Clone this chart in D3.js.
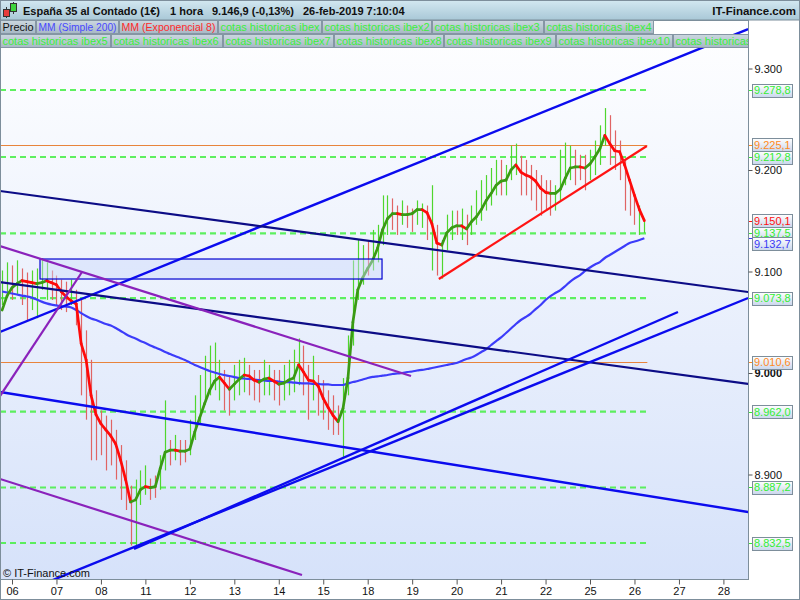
<!DOCTYPE html>
<html><head><meta charset="utf-8">
<script src="https://cdn.jsdelivr.net/npm/d3@7"></script>
<style>body{margin:0;background:#fff;} svg{display:block;font-family:"Liberation Sans",Arial,sans-serif;}</style>
</head><body><svg id="c" width="800" height="600"></svg>
<script>
// ---------------- DATA ----------------
const titleParts = ["España 35 al Contado (1€)", "1 hora", "9.146,9 (-0,13%)", "26-feb-2019 7:10:04"];
const brand = "IT-Finance.com";
const legendRow1 = ["Precio","MM (Simple 200)","MM (Exponencial 8)","cotas historicas ibex","cotas historicas ibex2","cotas historicas ibex3","cotas historicas ibex4"];
const legendRow2 = ["cotas historicas ibex5","cotas historicas ibex6","cotas historicas ibex7","cotas historicas ibex8","cotas historicas ibex9","cotas historicas ibex10","cotas historicas ibex11"];
const dayLabels = ["06","07","08","11","12","13","14","15","18","19","20","21","22","25","26","27","28"];
const dayStart  = [2,11,20,29,38,47,56,65,74,83,92,101,110,119,128,137,146];
const yTicks = [8900, 9000, 9100, 9200, 9300];

const high = [9101,9109,9106,9111,9103,9099,9101,9103,9113,9109, 9101,9096,9092,9090,9092,9082,9072,9042,9013,8983,
 8963,8958,8954,8944,8929,8914,8889,8895,8904,8909, 8896,8899,8919,8973,8934,8939,8934,8934,8954,8978,
 8998,9017,9027,9030,9013,9003,8998,9008,9013,9015, 9008,9003,9003,9013,9008,9003,9003,9008,9013,9023,
 9034,9027,9008,9017,8998,8993,8983,8978,8968,8995, 9037,9111,9131,9126,9131,9141,9146,9175,9175,9172,
 9165,9170,9165,9162,9170,9167,9165,9185,9146,9131, 9156,9160,9160,9162,9156,9165,9180,9190,9195,9202,
 9210,9210,9205,9224,9226,9214,9210,9205,9200,9195, 9190,9190,9185,9220,9227,9224,9220,9215,9215,9220,
 9229,9244,9261,9254,9239,9229,9210,9185,9175,9165, 9152];
const low = [9067,9074,9072,9077,9067,9052,9062,9054,9082,9072, 9072,9067,9062,9060,9067,9047,8978,8954,8914,8914,
 8919,8904,8909,8895,8875,8865,8830,8830,8870,8880, 8875,8877,8885,8904,8909,8914,8909,8912,8919,8934,
 8949,8973,8978,8983,8973,8963,8958,8973,8978,8981, 8978,8973,8971,8978,8978,8973,8968,8973,8978,8981,
 8988,8978,8954,8973,8958,8954,8944,8939,8939,8916, 8978,9027,9072,9087,9096,9101,9109,9126,9136,9141,
 9136,9146,9143,9139,9146,9143,9131,9101,9096,9093, 9121,9131,9136,9131,9126,9136,9146,9150,9160,9165,
 9175,9175,9175,9190,9195,9175,9175,9170,9160,9155, 9160,9155,9160,9170,9185,9190,9185,9190,9180,9190,
 9195,9205,9224,9205,9200,9190,9160,9155,9146,9136, 9138];
const open = [9075,9080,9100,9085,9098,9090,9070,9065,9088,9080, 9095,9090,9086,9082,9072,9078,9060,9000,8990,8975,
 8955,8945,8948,8935,8920,8905,8880,8840,8878,8885, 8892,8895,8888,8910,8930,8918,8930,8928,8922,8940,
 8955,8980,8985,8990,8980,8998,8990,8978,8985,8988, 9002,8998,8996,8984,8984,8998,8996,8980,8984,8988,
 8995,9020,9000,8978,8992,8988,8978,8972,8962,8930, 8985,9035,9085,9095,9125,9106,9115,9132,9142,9166,
 9160,9150,9160,9158,9150,9148,9160,9110,9140,9098, 9126,9136,9155,9136,9150,9140,9150,9156,9166,9170,
 9180,9205,9180,9195,9200,9208,9204,9200,9194,9190, 9185,9184,9164,9176,9190,9196,9214,9210,9210,9195,
 9200,9210,9230,9248,9232,9222,9202,9180,9170,9140, 9142];
const close = [9093,9100,9080,9103,9075,9062,9092,9095,9106,9100, 9078,9072,9068,9066,9086,9052,8990,8962,8930,8925,
 8925,8915,8920,8905,8885,8870,8845,8885,8898,8902, 8880,8882,8912,8935,8915,8932,8912,8916,8948,8970,
 8990,9010,9015,9020,9005,8970,8965,9000,9005,9008, 8984,8980,8978,9006,9002,8980,8975,9002,9006,9015,
 9025,8985,8962,9008,8964,8960,8950,8945,8944,8985, 9030,9100,9120,9118,9102,9135,9140,9168,9168,9148,
 9142,9165,9148,9144,9165,9162,9138,9140,9102,9125, 9150,9152,9140,9156,9132,9160,9174,9184,9188,9195,
 9203,9182,9200,9218,9220,9180,9180,9176,9166,9160, 9165,9162,9180,9210,9220,9216,9190,9194,9186,9215,
 9224,9238,9255,9212,9206,9196,9166,9160,9150,9160, 9146.9];
const ema8 = [9062,9076,9084,9088,9091,9090,9089,9088,9089,9091, 9089,9087,9080,9075,9071,9068,9029,9013,8978,8959,
 8950,8944,8938,8930,8914,8895,8873,8875,8885,8888, 8887,8888,8906,8922,8924,8924,8923,8923,8925,8942,
 8956,8970,8983,8992,8996,8990,8984,8989,8994,8998, 8997,8993,8991,8994,8995,8992,8989,8990,8993,8995,
 9008,9001,8993,8992,8987,8975,8966,8958,8952,8965, 8995,9050,9082,9094,9103,9111,9123,9141,9152,9157,
 9157,9156,9156,9157,9161,9161,9158,9147,9128,9126, 9138,9143,9145,9145,9142,9149,9154,9161,9170,9177,
 9185,9189,9190,9200,9205,9198,9195,9193,9189,9182, 9178,9177,9177,9181,9192,9202,9203,9203,9202,9206,
 9213,9221,9234,9226,9219,9218,9205,9190,9175,9161, 9150.1];
const sma200 = [9080.3,9079.3,9078.3,9077.3,9076.3,9075.4,9074.3,9072.5,9070.3,9068.6, 9067.4,9066.6,9065.6,9065.4,9064.5,9062.0,9059.0,9056.1,9053.7,9052.2,
 9050.2,9048.3,9046.8,9044.3,9041.4,9038.4,9035.9,9034.0,9031.5,9029.5, 9027.1,9025.1,9023.1,9020.7,9018.7,9016.7,9014.8,9012.8,9010.3,9007.9,
 9005.9,9003.9,9002.0,9000.5,8999.0,8998.0,8997.0,8996.0,8995.0,8994.6, 8994.1,8993.6,8993.1,8992.6,8992.1,8992.1,8991.6,8991.1,8991.1,8990.6,
 8990.1,8989.7,8989.7,8989.2,8989.2,8988.7,8988.7,8988.2,8988.2,8988.2, 8989.7,8991.1,8992.1,8993.6,8995.1,8996.1,8996.6,8997.5,8998.0,8999.0,
 8999.5,9000.0,9001.0,9001.5,9002.5,9003.0,9003.9,9004.9,9005.9,9006.9, 9007.9,9008.9,9009.8,9011.8,9013.8,9015.3,9017.7,9020.7,9023.6,9027.6,
 9031.5,9035.0,9039.4,9043.8,9048.3,9052.2,9055.2,9058.6,9063.0,9067.0, 9071.9,9075.8,9078.8,9081.7,9085.7,9090.1,9093.6,9096.5,9100.5,9103.9,
 9106.9,9109.3,9113.3,9116.2,9119.2,9122.1,9125.1,9128.1,9129.5,9131.0, 9132.7];

const levelsGreen = [9278.8, 9212.8, 9137.5, 9073.8, 8962.0, 8887.2, 8832.5];
const levelsOrange = [9225.1, 9010.6];

// trend lines: [barIndex, price] endpoints
const trendFrom = [[-0.43,9040.4],[-0.43,9179.3],[-0.43,9089.6],[-0.43,8981.3],[-0.43,9125.1],[-0.43,8895.6],[-0.43,8977.3],[26.7,8826.6],[-0.43,8774.9],[88.4,9092.6]];
const trendTo   = [[151,9338.8],[151,9079.8],[151,8989.2],[151,8863.1],[82.77,8997.0],[60.7,8801.0],[16.17,9099.5],[136.8,9060.1],[151,9073.9],[130.5,9223.6]];
const trendKind = ["blue","navy","navy","blue","purple","purple","purple","blue","blue","red"];
const boxFrom = [7.67, 9112.3];
const boxTo   = [76.9, 9092.6];

// ---------------- CHART ----------------
const svg = d3.select("#c");
const W = 800, H = 600;
const P = {left:0, right:748, top:20, bottom:579};
const x = d3.scaleLinear().domain([0,146]).range([2.12, 723.4]);
const y = d3.scaleLinear().domain([8900,9300]).range([474.5, 68.5]);
const loc = d3.formatLocale({decimal:",", thousands:".", grouping:[3], currency:["","€"]});
const fmtTick = loc.format(","), fmtVal = loc.format(",.1f");
const nBars = high.length, lastIdx = nBars - 1;

const defs = svg.append("defs");
function grad(id, c1, c2){ const g = defs.append("linearGradient").attr("id",id).attr("x1",0).attr("y1",0).attr("x2",0).attr("y2",1);
  g.append("stop").attr("offset","0%").attr("stop-color",c1); g.append("stop").attr("offset","100%").attr("stop-color",c2); }
grad("gPlot","#ffffff","#d6e2fa");
grad("gHead","#d3e8f1","#a9c8d7");
grad("gBtn","#cbd7df","#a7b8c5");
grad("gBadge","#ffffff","#c9d6ec");
defs.append("clipPath").attr("id","clipP").append("rect").attr("x",P.left).attr("y",P.top).attr("width",P.right-P.left).attr("height",P.bottom-P.top);

svg.append("rect").attr("width",W).attr("height",H).attr("fill","#fff");
svg.append("rect").attr("x",P.left).attr("y",P.top).attr("width",P.right-P.left).attr("height",P.bottom-P.top).attr("fill","url(#gPlot)");

const plot = svg.append("g").attr("clip-path","url(#clipP)");
const xEnd = x(lastIdx) + 3;

// horizontal levels
plot.selectAll(".lg").data(levelsGreen).join("line")
  .attr("x1",P.left).attr("x2",xEnd).attr("y1",d=>y(d)).attr("y2",d=>y(d))
  .attr("stroke","#4ef04e").attr("stroke-width",2.2).attr("stroke-dasharray","6,4").attr("opacity",0.9);
plot.selectAll(".lo").data(levelsOrange).join("line")
  .attr("x1",P.left).attr("x2",xEnd).attr("y1",d=>Math.round(y(d))+0.5).attr("y2",d=>Math.round(y(d))+0.5)
  .attr("stroke","#e8843c").attr("stroke-width",1);

// bars
const idx = d3.range(nBars);
plot.selectAll(".bar").data(idx).join("line")
  .attr("x1",i=>Math.round(x(i))+0.5).attr("x2",i=>Math.round(x(i))+0.5)
  .attr("y1",i=>y(high[i])).attr("y2",i=>y(low[i]))
  .attr("stroke",i=>close[i]>=open[i]?"#4fd62e":"#e06464").attr("stroke-width",1.2);

// SMA 200
plot.append("path").datum(idx).attr("fill","none").attr("stroke","#3c3cfa").attr("stroke-width",2.2)
  .attr("d", d3.line().x(i=>x(i)).y(i=>y(sma200[i])).curve(d3.curveMonotoneX));

// EMA 8 coloured by direction
plot.selectAll(".ema").data(idx.slice(0,-1)).join("line")
  .attr("x1",i=>x(i)).attr("x2",i=>x(i+1)).attr("y1",i=>y(ema8[i])).attr("y2",i=>y(ema8[i+1]))
  .attr("stroke",i=>ema8[i+1]>=ema8[i]?"#3a9a14":"#ff0a0a").attr("stroke-width",2.7).attr("stroke-linecap","round");

// rectangle
plot.append("rect").attr("x",x(boxFrom[0])).attr("y",y(boxFrom[1]))
  .attr("width",x(boxTo[0])-x(boxFrom[0])).attr("height",y(boxTo[1])-y(boxFrom[1]))
  .attr("fill","#cdd9fb").attr("fill-opacity",0.45).attr("stroke","#0000d0").attr("stroke-width",1.2);

// trend lines
const kindStyle = {blue:["#0b0bee",2.4], navy:["#0c0c86",2.2], purple:["#8a22bb",2.2], red:["#ff1414",2.2]};
plot.selectAll(".tl").data(d3.range(trendKind.length)).join("line")
  .attr("x1",k=>x(trendFrom[k][0])).attr("y1",k=>y(trendFrom[k][1]))
  .attr("x2",k=>x(trendTo[k][0])).attr("y2",k=>y(trendTo[k][1]))
  .attr("stroke",k=>kindStyle[trendKind[k]][0]).attr("stroke-width",k=>kindStyle[trendKind[k]][1]);

// copyright
svg.append("text").attr("x",3).attr("y",577).attr("font-size",11).attr("fill","#111").text("© IT-Finance.com");

// frame
svg.append("rect").attr("x",0.5).attr("y",P.top+0.5).attr("width",P.right).attr("height",P.bottom-P.top)
  .attr("fill","none").attr("stroke","#7d8e9b");

// x axis
const xa = svg.append("g").attr("transform",`translate(0,${P.bottom+0.5})`)
  .call(d3.axisBottom(x).tickValues(dayStart).tickFormat((d,i)=>dayLabels[i]).tickSize(5).tickPadding(3));
xa.select(".domain").remove();
xa.selectAll("line").attr("stroke","#555");
xa.selectAll("text").attr("font-size",11).attr("fill","#111").attr("font-family","Liberation Sans, Arial, sans-serif");

// y axis (right)
const ya = svg.append("g").attr("transform",`translate(${P.right+0.5},0)`)
  .call(d3.axisRight(y).tickValues(yTicks).tickFormat(d=>fmtTick(d)).tickSize(4).tickPadding(2));
ya.select(".domain").remove();
ya.selectAll("line").attr("stroke","#555");
ya.selectAll("text").attr("font-size",11).attr("fill","#111").attr("font-family","Liberation Sans, Arial, sans-serif")
  .attr("font-weight",d=>d===9000?"bold":"normal");

// value badges
const badges = [];
levelsOrange.forEach(v=>badges.push({v, c:"#ff8a1e"}));
badges.push({v:ema8[lastIdx], c:"#ff1010"});
levelsGreen.forEach(v=>badges.push({v, c:"#33ee33"}));
badges.push({v:sma200[lastIdx], c:"#3a3af6"});
const placed = [];
badges.forEach(b=>{ let cy = y(b.v);
  placed.forEach(p=>{ if (Math.abs(p.cy-cy) < 10 && b.c==="#3a3af6") cy = p.cy + 10.5; });
  b.cy = cy; placed.push(b); });
const bg = svg.append("g");
badges.forEach(b=>{
  bg.append("line").attr("x1",P.right+1).attr("x2",P.right+5).attr("y1",Math.round(y(b.v))+0.5).attr("y2",Math.round(y(b.v))+0.5).attr("stroke",b.c);
  bg.append("rect").attr("x",752.5).attr("y",Math.round(b.cy-6.5)+0.5).attr("width",40).attr("height",13)
    .attr("fill","url(#gBadge)").attr("stroke","#7d8e9b");
  bg.append("text").attr("x",754).attr("y",b.cy+4).attr("font-size",11).attr("fill",b.c).text(fmtVal(b.v));
});

// header
svg.append("rect").attr("x",0).attr("y",0).attr("width",W).attr("height",20).attr("fill","url(#gHead)").attr("stroke","#7d8e9b");
const ic = svg.append("g");
ic.append("line").attr("x1",6.5).attr("x2",6.5).attr("y1",7).attr("y2",18).attr("stroke","#333");
ic.append("rect").attr("x",3.5).attr("y",9.5).attr("width",6).attr("height",7).attr("fill","#e83c3c").attr("stroke","#333");
ic.append("line").attr("x1",13.5).attr("x2",13.5).attr("y1",2).attr("y2",14).attr("stroke","#333");
ic.append("rect").attr("x",10.5).attr("y",3.5).attr("width",6).attr("height",8).attr("fill","#3ed43e").attr("stroke","#333");
const tx = [23,170,212,303];
titleParts.forEach((t,i)=>svg.append("text").attr("x",tx[i]).attr("y",14.5).attr("font-size",11).attr("font-weight","bold").attr("fill","#111").text(t));
svg.append("text").attr("x",796).attr("y",14.5).attr("text-anchor","end").attr("font-size",11.5).attr("font-weight","bold").attr("fill","#111").text(brand);

// legend buttons (fixed button widths as in the original toolbar)
defs.append("clipPath").attr("id","clipL").append("rect").attr("x",0).attr("y",20).attr("width",P.right).attr("height",29);
const lg = svg.append("g").attr("clip-path","url(#clipL)");
function row(labels, colors, widths, top){
  let cx = 0.5;
  labels.forEach((t,i)=>{
    const g = lg.append("g");
    g.append("rect").attr("x",cx).attr("y",top+0.5).attr("width",widths[i]).attr("height",13).attr("fill","url(#gBtn)").attr("stroke","#8596a4");
    const te = g.append("text").attr("x",cx+2).attr("y",top+11).attr("font-size",11).attr("fill",colors[i]).text(t);
    const w = te.node().getComputedTextLength();
    if (w > widths[i]-4) te.attr("textLength",widths[i]-4).attr("lengthAdjust","spacingAndGlyphs");
    cx += widths[i] + 1;
  });
}
row(legendRow1, ["#111","#4848ff","#ff2a2a"].concat(d3.range(4).map(()=>"#3cf03c")), [35,82,98,103,109,111,109], 20);
row(legendRow2, d3.range(7).map(()=>"#3cf03c"), [110,111,110,109,111,116,116], 34);

// outer border
svg.append("rect").attr("x",0.5).attr("y",0.5).attr("width",W-1).attr("height",H-1).attr("fill","none").attr("stroke","#7d8e9b");
</script></body></html>
